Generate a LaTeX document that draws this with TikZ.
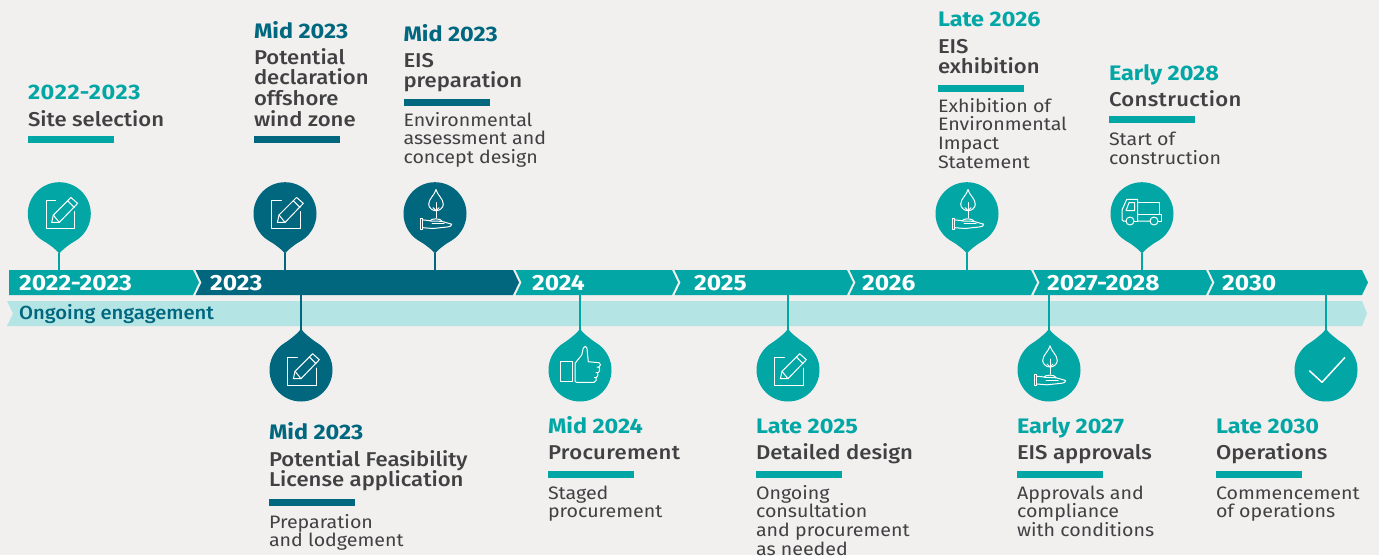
\documentclass[tikz,border=0pt]{standalone}
\usepackage{fontspec}
\setmainfont{Fira Sans}[FakeStretch=1.09]
\newfontfamily\medfont{Fira Sans Medium}[FakeStretch=1.105]
\newfontfamily\engfont{Fira Sans Medium}[FakeStretch=1.065]
\newfontfamily\boldfont{Fira Sans}[FakeStretch=1.115,UprightFont=* Bold]
\definecolor{bgc}{HTML}{F1F0EF}
\definecolor{teal}{HTML}{02A7A5}
\definecolor{deep}{HTML}{00677F}
\definecolor{pale}{HTML}{B4E5E4}
\definecolor{ink}{HTML}{414042}
\tikzset{
  x=1pt,y=-1pt,
  txt/.style={anchor=north west,inner sep=0pt,outer sep=0pt,align=left},
  datelab/.style={txt,font=\fontsize{21}{21}\boldfont},
  headlab/.style={txt,text=ink,font=\fontsize{20}{20.7}\medfont},
  bodylab/.style={txt,text=ink,font=\fontsize{18}{18.7}\selectfont},
  yearlab/.style={anchor=base west,inner sep=0pt,text=white,font=\fontsize{22}{22}\boldfont},
  pinhead/.style={circle,minimum size=63pt,inner sep=0pt,outer sep=0pt},
  icon/.style={draw=white,line width=1pt,line join=round,line cap=round,fill=none},
}
% text block: name, x, baseline of the first line, style, text
\newcommand\lab[5]{\node[#4] (#1) at (#2,{#3-22}) {\rule{0pt}{22pt}#5};}
\newcommand\rulebar[4]{\fill[#4] (#1,#2) rectangle ++(86,7);}
% year segment: name,x0,x1,colour
\newcommand\seg[4]{\fill[#4] (#2,270) -- (#3,270) -- (#3+6,282.5) -- (#3,295) -- (#2,295) -- (#2+6,282.5) -- cycle;}
\newcommand\pencil{%
  \draw[icon] (-3.6,-13) -- (-13.3,-13) -- (-13.3,15) -- (15,15) -- (15,-2);
  \draw[icon] (-7.6,8.7) -- (-6,1.3) -- (11.6,-16.3) -- (18.3,-10.3) -- (0,8.7) -- cycle;
  \draw[icon] (8.3,-13) -- (15,-6.3);
  \draw[icon] (-6,1.3) -- (0,8.7);}
\newcommand\plant{%
  \draw[icon] (1,-24.2) .. controls (0,-19) and (-6.3,-15) .. (-6.3,-9.5) .. controls (-6.3,-6) and (-2.8,-3) .. (1,-3) .. controls (4.8,-3) and (8.3,-6) .. (8.3,-9.5) .. controls (8.3,-15) and (2,-19) .. (1,-24.2) -- cycle;
  \draw[icon] (1,-11) -- (1,4);
  \draw[icon] (-2,-6) -- (1,-3) -- (4,-6);
  \draw[icon] (-5,7.3) .. controls (-4.5,4.4) and (6,4.4) .. (7,7.5);
  \draw[icon] (-15,4.7) rectangle (-12.3,15.7);
  \draw[icon] (-12.3,6.2) -- (-6.5,6.8) .. controls (-3,8) and (5,7) .. (8,8) -- (16.7,10.5) .. controls (17,12) and (15,13) .. (13,13.2) -- (-2,14.8) -- (-12.3,14);
  \draw[icon] (-3,10) -- (9,10);}
\newcommand\thumb{%
  \draw[icon] (-20,-9) rectangle (-7.3,11.7);
  \draw[icon] (-3.3,12.3) .. controls (-5,12.3) and (-5,11) .. (-5,10) -- (-5,-6.7) -- (1.7,-15) -- (3.3,-22) .. controls (4,-24.5) and (6.5,-24) .. (6.9,-22) -- (8.3,-8.3) -- (19,-7.3) .. controls (21,-7) and (21,-3.5) .. (19,-3) -- (17,-3) (18.5,-3) .. controls (20,-2.5) and (20,2) .. (18,2.7) -- (16,2.7) (17.5,2.7) .. controls (18.5,3.5) and (18,7) .. (16.5,7.5) -- (14.5,7.5) (16,7.5) .. controls (17,9) and (16,12.3) .. (14,12.3) -- (-3.3,12.3);}
\newcommand\truck{%
  \draw[icon] (-16,7.5) -- (-18.5,7.5) .. controls (-19.5,7.5) and (-20,7) .. (-20,6) -- (-20,-3.7) -- (-15.3,-14.3) -- (-4.3,-14.3) -- (-4.3,7.5) -- (8,7.5);
  \draw[icon] (-8,7.5) -- (-4.3,7.5);
  \draw[icon] (-4.3,-11) -- (17,-11) -- (17,0.7);
  \draw[icon] (-4.3,0.7) -- (19.7,0.7) -- (19.7,8) -- (16,8);
  \draw[icon] (-12,7.3) circle[radius=4];
  \draw[icon] (12,7.3) circle[radius=4];
  \draw[icon] (-16,-3) -- (-7.5,-3) -- (-7.5,-11) -- (-13,-11) -- cycle;}
\newcommand\tick{\draw[icon,line width=1.5pt] (-16.3,1) -- (-4,12.3) -- (18.7,-12.3);}
% pin above the bar: name,x,colour,icon
\newcommand\uppin[4]{%
  \node[pinhead,fill=#3] (#1) at (#2,213.7) {};
  \fill[#3] (#2-24,233.7) .. controls (#2-19,240) and (#2-7,245) .. (#2,253.5) .. controls (#2+7,245) and (#2+19,240) .. (#2+24,233.7) -- cycle;
  \coordinate (#1t) at (#2,253);
  \coordinate (#1b) at (#2,270.5);
  \draw[#3,line width=2pt] (#1t) -- (#1b);
  \begin{scope}[shift={(#2,213.7)}]#4\end{scope}}
% pin below the bar
\newcommand\downpin[4]{%
  \node[pinhead,fill=#3] (#1) at (#2,370) {};
  \fill[#3] (#2-24,350) .. controls (#2-19,343.7) and (#2-7,338) .. (#2,329) .. controls (#2+7,338) and (#2+19,343.7) .. (#2+24,350) -- cycle;
  \coordinate (#1t) at (#2,295);
  \coordinate (#1b) at (#2,330);
  \draw[#3,line width=2pt] (#1t) -- (#1b);
  \begin{scope}[shift={(#2,370)}]#4\end{scope}}
\begin{document}
\begin{tikzpicture}
\fill[bgc] (0,0) rectangle (1379,555);
\useasboundingbox (0,0) rectangle (1379,555);
% pale band
\fill[pale] (7,301) -- (1362,301) -- (1367,313.5) -- (1362,326) -- (7,326) -- (13,313.5) -- cycle;
% year bar
\fill[teal] (9,270) -- (193,270) -- (199,282.5) -- (193,295) -- (9,295) -- cycle;
\seg{s2}{195.5}{513}{deep}
\seg{s3}{515.5}{672}{teal}
\seg{s4}{674.5}{847}{teal}
\seg{s5}{849.5}{1031}{teal}
\seg{s6}{1033.5}{1206}{teal}
\seg{s7}{1208.5}{1362}{teal}
\node[yearlab] (y1) at (19,290) {2022-2023};
\node[yearlab] (y2) at (210,290) {2023};
\node[yearlab] (y3) at (532,290) {2024};
\node[yearlab] (y4) at (694,290) {2025};
\node[yearlab] (y5) at (862,290) {2026};
\node[yearlab] (y6) at (1047,290) {2027-2028};
\node[yearlab] (y7) at (1222,290) {2030};
\node[anchor=base west,inner sep=0pt,text=deep,font=\fontsize{19}{19}\engfont] (eng) at (19,319) {Ongoing engagement};
% pins
\uppin{p1}{59.3}{teal}{\pencil}
\uppin{p2}{285}{deep}{\pencil}
\uppin{p3}{435}{deep}{\plant}
\uppin{p4}{967}{teal}{\plant}
\uppin{p5}{1142}{teal}{\truck}
\downpin{q1}{301}{deep}{\pencil}
\downpin{q2}{580}{teal}{\thumb}
\downpin{q3}{788}{teal}{\pencil}
\downpin{q4}{1049}{teal}{\plant}
\downpin{q5}{1326}{teal}{\tick}
% upper texts
\lab{a1}{28}{99}{datelab,text=teal}{\addfontfeature{LetterSpace=3}2022-2023}
\lab{a2}{28}{126}{headlab}{Site selection}
\rulebar{28}{136}{}{teal}
\lab{b1}{254}{38}{datelab,text=deep}{Mid 2023}
\lab{b2}{254}{64}{headlab}{Potential\\declaration\\offshore\\wind zone}
\rulebar{254}{136}{}{deep}
\lab{c1}{403.5}{41}{datelab,text=deep}{Mid 2023}
\lab{c2}{403.5}{67}{headlab}{EIS\\preparation}
\rulebar{403.5}{98.5}{}{deep}
\lab{c3}{403.5}{126}{bodylab}{Environmental\\assessment and\\concept design}
\lab{d1}{938}{26}{datelab,text=teal}{Late 2026}
\lab{d2}{938}{53}{headlab}{EIS\\exhibition}
\rulebar{938}{85}{}{teal}
\lab{d3}{938}{112}{bodylab}{Exhibition of\\Environmental\\Impact\\Statement}
\lab{e1}{1109}{80}{datelab,text=teal}{Early 2028}
\lab{e2}{1109}{106}{headlab}{\addfontfeature{LetterSpace=1.6}Construction}
\rulebar{1109}{116}{}{teal}
\lab{e3}{1109}{145.3}{bodylab}{Start of\\construction}
% lower texts
\lab{f1}{269}{439}{datelab,text=deep}{Mid 2023}
\lab{f2}{269}{466}{headlab}{Potential Feasibility\\License application}
\rulebar{269}{499}{}{deep}
\lab{f3}{269}{528}{bodylab}{Preparation\\and lodgement}
\lab{g1}{548}{433}{datelab,text=teal}{Mid 2024}
\lab{g2}{548}{459}{headlab}{\addfontfeature{LetterSpace=1.6}Procurement}
\rulebar{548}{471}{}{teal}
\lab{g3}{548}{499}{bodylab}{Staged\\procurement}
\lab{h1}{756}{433}{datelab,text=teal}{Late 2025}
\lab{h2}{756}{459}{headlab}{Detailed design}
\rulebar{756}{471}{}{teal}
\lab{h3}{756}{499}{bodylab}{Ongoing\\consultation\\and procurement\\as needed}
\lab{i1}{1017}{433}{datelab,text=teal}{Early 2027}
\lab{i2}{1017}{459}{headlab}{EIS approvals}
\rulebar{1017}{471}{}{teal}
\lab{i3}{1017}{499}{bodylab}{Approvals and\\compliance\\with conditions}
\lab{j1}{1216}{433}{datelab,text=teal}{Late 2030}
\lab{j2}{1216}{459}{headlab}{Operations}
\rulebar{1216}{471}{}{teal}
\lab{j3}{1216}{499}{bodylab}{Commencement\\of operations}
\end{tikzpicture}
\end{document}
